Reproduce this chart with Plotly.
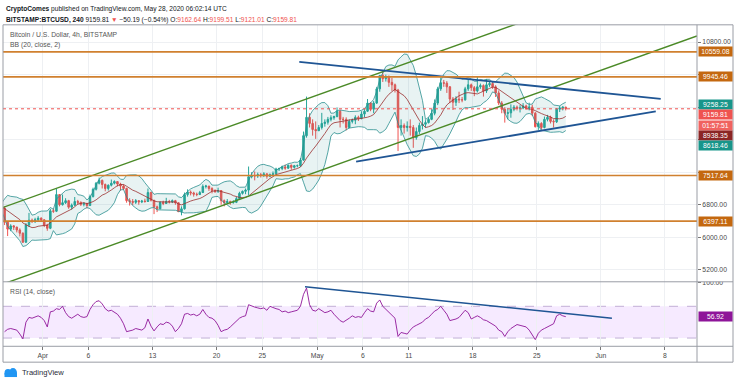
import numpy as np
import pandas as pd
import plotly.graph_objects as go

# ---------------------------------------------------------------- data
# BTC/USD (Bitstamp), one candle per 8 hours,
# timestamps are candle centres (04:00, 12:00, 20:00 UTC)
candle_start = "2020-03-24 04:00"
opens = [
    6480, 6600, 6720,  6750, 6850, 6700,  6690, 6720, 6700,  6760, 6780, 6720,   # Mar 24-27
    6370, 6200, 6280,  6250, 6180, 6100,  5880, 6300, 6420,  6400, 6430, 6470,   # Mar 28-31
    6430, 6300, 6220,  6650, 6640, 7050,  6800, 6850, 6900,  6740, 6790, 6880,   # Apr 1-4
    6860, 6810, 6830,  6780, 7000, 7180,  7330, 7400, 7300,  7200, 7280, 7330,   # Apr 5-8
    7370, 7310, 7260,  7200, 6900, 6880,  6860, 6900, 6870,  6890, 6880, 7100,   # Apr 9-12
    6910, 6750, 6700,  6860, 6830, 6880,  6870, 6900, 6850,  6630, 6700, 7050,   # Apr 13-16
    7110, 7090, 7060,  7050, 7100, 7250,  7260, 7200, 7150,  7130, 7150, 6900,   # Apr 17-20
    6850, 6880, 6850,  6860, 6950, 7080,  7130, 7160, 7490,  7520, 7510, 7540,   # Apr 21-24
    7520, 7560, 7500,  7540, 7560, 7680,  7690, 7730, 7700,  7770, 7720, 7760,   # Apr 25-28
    7760, 7900, 8500,  8950, 8800, 8650,  8620, 8700, 8800,  8830, 8900, 8940,   # Apr 29-May 2
    8970, 9100, 8900,  8900, 8700, 8850,  8880, 8950, 8920,  9030, 9100, 9300,   # May 3-6
    9150, 9300, 9650,  9980, 9900, 9950,  9810, 9750, 9620,  8700, 8750, 8700,   # May 7-10
    8730, 8700, 8450,  8600, 8750, 8780,  8820, 8900, 9050,  9300, 9650, 9800,   # May 11-14
    9790, 9700, 9400,  9320, 9400, 9380,  9380, 9650, 9750,  9680, 9600, 9700,   # May 15-18
    9730, 9600, 9750,  9780, 9700, 9550,  9300, 9150, 9050,  9060, 9150, 9200,   # May 19-22
    9170, 9180, 9230,  9180, 9200, 9050,  8720, 8800, 8700,  8900, 8950, 8850,   # May 23-26
    8840, 9150, 9180,  9200,                                                      # May 27-28
]
highs = [
    6620, 6850, 6800,  6960, 6880, 6750,  6780, 6760, 6790,  6870, 6850, 6760,
    6380, 6320, 6300,  6260, 6220, 6120,  6350, 6600, 6460,  6480, 6520, 6490,
    6440, 6330, 6700,  6700, 7200, 7060,  7050, 6960, 6920,  6830, 6990, 6920,
    6880, 6860, 6850,  7050, 7220, 7360,  7470, 7420, 7320,  7300, 7420, 7400,
    7380, 7340, 7300,  7220, 6960, 6940,  6940, 6910, 6920,  6950, 7200, 7120,
    6920, 6780, 6880,  6900, 6970, 6920,  6930, 6920, 6860,  6760, 7100, 7180,
    7150, 7120, 7100,  7140, 7300, 7290,  7260, 7230, 7180,  7220, 7160, 6930,
    6940, 6900, 6910,  6990, 7120, 7150,  7200, 7740, 7600,  7620, 7590, 7580,
    7600, 7570, 7570,  7620, 7710, 7710,  7760, 7790, 7790,  7790, 7780, 7790,
    7950, 8600, 9460,  9050, 8900, 8850,  8760, 9060, 8900,  8960, 9000, 8990,
    9190, 9130, 8960,  8950, 8900, 8920,  9000, 8990, 9100,  9150, 9400, 9320,
    9350, 9700, 9990, 10070, 10000, 9980,  9920, 9780, 9650,  8900, 8800, 8850,
    8900, 8760, 8700,  8820, 8980, 8880,  8950, 9150, 9390,  9700, 9930, 9870,
    9840, 9720, 9450,  9470, 9580, 9450,  9700, 9880, 9780,  9720, 9950, 9780,
    9760, 9890, 9850,  9830, 9740, 9610,  9350, 9200, 9170,  9270, 9250, 9240,
    9250, 9300, 9260,  9310, 9260, 9080,  8850, 8830, 8970,  9010, 8990, 8900,
    9180, 9230, 9220,  9210,
]
lows = [
    6380, 6560, 6650,  6700, 6600, 6500,  6550, 6620, 6680,  6700, 6650, 6300,
    6030, 6150, 6180,  6120, 6020, 5860,  5860, 6250, 6350,  6350, 6400, 6380,
    6250, 6160, 6200,  6600, 6620, 6760,  6780, 6820, 6700,  6680, 6770, 6800,
    6770, 6760, 6710,  6770, 6980, 7150,  7300, 7200, 7130,  7150, 7250, 7300,
    7250, 7150, 7160,  6850, 6780, 6790,  6820, 6800, 6840,  6850, 6870, 6880,
    6570, 6620, 6690,  6790, 6820, 6830,  6840, 6800, 6620,  6540, 6680, 7000,
    7030, 7000, 7010,  7040, 7090, 7200,  7140, 7080, 7090,  7090, 6800, 6760,
    6820, 6800, 6830,  6840, 6930, 7050,  7060, 7040, 7450,  7400, 7460, 7470,
    7480, 7440, 7480,  7500, 7540, 7630,  7650, 7660, 7680,  7660, 7690, 7720,
    7730, 7880, 8450,  8700, 8500, 8420,  8620, 8650, 8720,  8770, 8850, 8890,
    8950, 8700, 8800,  8630, 8680, 8800,  8780, 8860, 8900,  8950, 9080, 9100,
    9050, 9280, 9580,  9820, 9830, 9700,  9600, 9560, 8120,  8500, 8550, 8600,
    8500, 8200, 8400,  8540, 8650, 8700,  8800, 8880, 9000,  9250, 9600, 9700,
    9550, 9300, 9130,  9230, 9300, 9320,  9360, 9600, 9600,  9470, 9560, 9650,
    9460, 9550, 9700,  9650, 9450, 9250,  9050, 8820, 8900,  8940, 9100, 9120,
    9070, 9150, 9140,  9120, 8980, 8700,  8640, 8650, 8680,  8850, 8800, 8700,
    8810, 9080, 9120,  9120,
]
closes = [
    6600, 6720, 6750,  6850, 6700, 6690,  6720, 6700, 6760,  6780, 6720, 6370,
    6200, 6280, 6250,  6180, 6100, 5880,  6300, 6420, 6400,  6430, 6470, 6430,
    6300, 6220, 6650,  6640, 7050, 6800,  6850, 6900, 6740,  6790, 6880, 6860,
    6810, 6830, 6780,  7000, 7180, 7330,  7400, 7300, 7200,  7280, 7330, 7370,
    7310, 7260, 7200,  6900, 6880, 6860,  6900, 6870, 6890,  6880, 7100, 6910,
    6750, 6700, 6860,  6830, 6880, 6870,  6900, 6850, 6630,  6700, 7050, 7110,
    7090, 7060, 7050,  7100, 7250, 7260,  7200, 7150, 7130,  7150, 6900, 6850,
    6880, 6850, 6860,  6950, 7080, 7130,  7160, 7490, 7520,  7510, 7540, 7520,
    7560, 7500, 7540,  7560, 7680, 7690,  7730, 7700, 7770,  7720, 7760, 7760,
    7900, 8500, 8950,  8800, 8650, 8620,  8700, 8800, 8830,  8900, 8940, 8970,
    9100, 8900, 8900,  8700, 8850, 8880,  8950, 8920, 9030,  9100, 9300, 9150,
    9300, 9650, 9980,  9900, 9950, 9810,  9750, 9620, 8700,  8750, 8700, 8730,
    8700, 8450, 8600,  8750, 8780, 8820,  8900, 9050, 9300,  9650, 9800, 9790,
    9700, 9400, 9320,  9400, 9380, 9380,  9650, 9750, 9680,  9600, 9700, 9730,
    9600, 9750, 9780,  9700, 9550, 9300,  9150, 9050, 9060,  9150, 9200, 9170,
    9180, 9230, 9180,  9200, 9050, 8720,  8800, 8700, 8900,  8950, 8850, 8840,
    9150, 9180, 9200,  9160,
]

rsi_start = "2020-03-27 20:00"
rsi_values = [
    38,
    41, 42, 41,  40, 35, 29,  50, 56, 55,  57, 58, 56,            # Mar 28-31
    52, 44, 63,  64, 67, 66,  70, 62, 57,  55, 57, 60,            # Apr 1-4
    57, 56, 57,  66, 72, 76,  77, 73, 67,  64, 65, 62,            # Apr 5-8
    60, 55, 48,  38, 39, 40,  42, 41, 40,  43, 54, 45,            # Apr 9-12
    39, 44, 48,  47, 50, 49,  45, 38, 42,  48, 60, 61,            # Apr 13-16
    59, 60, 58,  60, 66, 60,  56, 55, 52,  46, 38, 40,            # Apr 17-20
    41, 44, 48,  52, 55, 57,  58, 72, 70,  69, 68, 67,            # Apr 21-24
    68, 65, 70,  68, 67, 66,  63, 64, 62,  63, 64, 65,            # Apr 25-28
    70, 85, 93,  72, 65, 64,  67, 65, 62,  63, 65, 60,            # Apr 29-May 2
    56, 52, 50,  52, 55, 58,  56, 57, 56,  62, 67, 64,            # May 3-6
    63, 74, 78,  70, 66, 62,  58, 55, 32,  37, 36, 35,            # May 7-10
    40, 44, 46,  48, 50, 54,  56, 60, 64,  66, 70, 65,            # May 11-14
    60, 52, 53,  54, 56, 60,  65, 62, 54,  56, 58, 56,            # May 15-18
    53, 52, 50,  48, 45, 40,  38, 32, 38,  42, 45, 47,            # May 19-22
    46, 45, 44,  40, 34, 28,  36, 40, 42,  44, 46, 48,            # May 23-26
    58, 60, 58,  56.92,                                           # May 27-28
]

# horizontal support / resistance levels
levels = [10559.08, 9945.46, 7517.64, 6397.11]
last_price = 9159.81
# labels on the price scale (value, text)
bb_upper_last, bb_basis_last, bb_lower_last = 9258.25, 8938.35, 8618.46
countdown = "01:57:51"
rsi_last = 56.92

# drawn trend lines: (dates, values)
channel_top = (["2020-03-27 15:50", "2020-06-11 12:00"], [6734, 12832])
channel_bottom = (["2020-03-27 15:50", "2020-06-11 12:00"], [4850, 10950])
wedge_top = (["2020-04-29 01:00", "2020-06-07 13:00"], [10315, 9402])
wedge_bottom = (["2020-05-05 06:00", "2020-06-07 00:00"], [7858, 9095])
rsi_trend = (["2020-04-29 16:00", "2020-06-02 05:00"], [94.6, 55.0])

tick_dates = ["2020-04-01", "2020-04-06", "2020-04-13", "2020-04-20", "2020-04-25",
              "2020-05-01", "2020-05-06", "2020-05-11", "2020-05-18", "2020-05-25",
              "2020-06-01", "2020-06-08"]
tick_labels = ["Apr", "6", "13", "20", "25", "May", "6", "11", "18", "25", "Jun", "8"]
price_ticks = [5200, 6000, 6800, 7600, 8400, 9200, 10000, 10800]
price_ticks_shown = [5200, 6000, 6800, 10800]

# ---------------------------------------------------------------- geometry / style
W, H = 736, 382
PL, PR, FR = 3, 697, 733          # plot left, price-scale line, frame right
MT, MB, RB, FB = 22, 281, 346, 362  # main top, main bottom, rsi bottom, frame bottom
x_range = ["2020-03-27 15:50", "2020-06-11 12:10"]
price_range = [4905, 11225]
rsi_range = [19.6, 100.9]

UP, DOWN = "#26a69a", "#ef5350"
ORANGE_LINE, ORANGE_BOX = "#d0802f", "#c4680f"
GREEN = "#4b8a27"
BLUE = "#1f5594"
BB_LINE, BB_FILL, BB_MID = "#2b8f8f", "rgba(25,135,135,0.10)", "#9b2f2f"
RSI_COL = "#8e1599"
GRID = "#eef0f3"
FRAME = "#9a9da5"
TXT = "#4a4a4a"
FONT = "Liberation Sans, Arial, sans-serif"
FS = 6.8


def px(x):
    return x / W


def py(y):
    return 1 - y / H


def price_px(p):
    return MT + (price_range[1] - p) / (price_range[1] - price_range[0]) * (MB - MT)


def rsi_px(v):
    return MB + (rsi_range[1] - v) / (rsi_range[1] - rsi_range[0]) * (RB - MB)


times = pd.date_range(candle_start, periods=len(closes), freq="8h")
rsi_times = pd.date_range(rsi_start, periods=len(rsi_values), freq="8h")

BB_WINDOW = 10  # 20 x 4h == 10 x 8h
s = pd.Series(closes, dtype=float)
bb_mid = s.rolling(BB_WINDOW).mean()
bb_sd = s.rolling(BB_WINDOW).std(ddof=0)
bb_up = bb_mid + 2 * bb_sd
bb_lo = bb_mid - 2 * bb_sd

fig = go.Figure()

# Bollinger bands
fig.add_trace(go.Scatter(x=times, y=bb_up, mode="lines", line=dict(color=BB_LINE, width=0.8),
                         hoverinfo="skip", xaxis="x", yaxis="y"))
fig.add_trace(go.Scatter(x=times, y=bb_lo, mode="lines", line=dict(color=BB_LINE, width=0.8),
                         fill="tonexty", fillcolor=BB_FILL, hoverinfo="skip", xaxis="x", yaxis="y"))
fig.add_trace(go.Scatter(x=times, y=bb_mid, mode="lines", line=dict(color=BB_MID, width=0.8),
                         hoverinfo="skip", xaxis="x", yaxis="y"))

# candles
fig.add_trace(go.Candlestick(
    x=times, open=opens, high=highs, low=lows, close=closes,
    increasing=dict(line=dict(color=UP, width=1), fillcolor=UP),
    decreasing=dict(line=dict(color=DOWN, width=1), fillcolor=DOWN),
    whiskerwidth=0, hoverinfo="skip", xaxis="x", yaxis="y"))

# trend lines
for (xs, ys), col, wd in [(channel_top, GREEN, 1.4), (channel_bottom, GREEN, 1.4),
                          (wedge_top, BLUE, 1.8), (wedge_bottom, BLUE, 1.8)]:
    fig.add_trace(go.Scatter(x=xs, y=ys, mode="lines", line=dict(color=col, width=wd),
                             hoverinfo="skip", xaxis="x", yaxis="y"))

# RSI
fig.add_trace(go.Scatter(x=rsi_times, y=rsi_values, mode="lines", line=dict(color=RSI_COL, width=0.9),
                         hoverinfo="skip", xaxis="x2", yaxis="y2"))
fig.add_trace(go.Scatter(x=rsi_trend[0], y=rsi_trend[1], mode="lines", line=dict(color=BLUE, width=1.6),
                         hoverinfo="skip", xaxis="x2", yaxis="y2"))

shapes = []
# RSI band
shapes.append(dict(type="rect", xref="x2 domain", yref="y2", x0=0, x1=1, y0=30, y1=70,
                   fillcolor="rgba(153,21,255,0.09)", line=dict(width=0), layer="below"))
for v in (30, 70):
    shapes.append(dict(type="line", xref="x2 domain", yref="y2", x0=0, x1=1, y0=v, y1=v,
                       line=dict(color="#c2b0d6", width=1, dash="dash"), layer="below"))
# horizontal levels
for lv in levels:
    shapes.append(dict(type="line", xref="x domain", yref="y", x0=0, x1=1, y0=lv, y1=lv,
                       line=dict(color=ORANGE_LINE, width=1.6)))
# last price dotted line
shapes.append(dict(type="line", xref="x domain", yref="y", x0=0, x1=1, y0=last_price, y1=last_price,
                   line=dict(color=DOWN, width=1, dash="dot")))
# cover top half of the "100.00" label (it is clipped by the pane border in the original)
shapes.append(dict(type="rect", xref="paper", yref="paper", x0=px(PR + 1), x1=px(FR - 0.5),
                   y0=py(MB), y1=py(MB - 8), fillcolor="white", line=dict(width=0), layer="above"))
# frame and pane separators
shapes.append(dict(type="rect", xref="paper", yref="paper", x0=px(PL), x1=px(FR), y0=py(FB), y1=py(MT),
                   line=dict(color=FRAME, width=1)))
shapes.append(dict(type="line", xref="paper", yref="paper", x0=px(PR), x1=px(PR), y0=py(FB), y1=py(MT),
                   line=dict(color=FRAME, width=1)))
for yy in (MB, RB):
    shapes.append(dict(type="line", xref="paper", yref="paper", x0=px(PL), x1=px(FR), y0=py(yy), y1=py(yy),
                       line=dict(color=FRAME, width=1)))
# TradingView logo (cloud)
LOGO = "#2196f3"
shapes.append(dict(type="circle", xref="paper", yref="paper", x0=px(4.5), x1=px(11.5), y0=py(377), y1=py(369),
                   fillcolor=LOGO, line=dict(width=0)))
shapes.append(dict(type="circle", xref="paper", yref="paper", x0=px(9), x1=px(17), y0=py(377), y1=py(368),
                   fillcolor=LOGO, line=dict(width=0)))
shapes.append(dict(type="rect", xref="paper", yref="paper", x0=px(4.5), x1=px(17), y0=py(377), y1=py(373),
                   fillcolor=LOGO, line=dict(width=0)))

ann = []


def text(x, y, t, size=FS, color=TXT, anchor="left"):
    ann.append(dict(xref="paper", yref="paper", x=px(x), y=py(y), text=t, showarrow=False,
                    xanchor=anchor, yanchor="middle", font=dict(size=size, color=color, family=FONT)))


def box(y, t, bg):
    ann.append(dict(xref="paper", yref="paper", x=px(PR + 1), y=py(y), text=t, showarrow=False,
                    xanchor="left", yanchor="middle", width=33, height=9, align="center",
                    bgcolor=bg, borderpad=0, font=dict(size=FS, color="white", family=FONT)))


R = "#ef5350"
text(4, 6.5, "<b>CryptoComes</b> published on TradingView.com, May 28, 2020 06:02:14 UTC", 6.6, "#131722")
text(4, 17, "<b>BITSTAMP:BTCUSD, 240</b> 9159.81 <span style='color:%s'>▼</span> −50.19 (−0.54%%) "
     "O:<span style='color:%s'>9162.64</span> H:<span style='color:%s'>9199.51</span> "
     "L:<span style='color:%s'>9121.01</span> C:<span style='color:%s'>9159.81</span>" % (R, R, R, R, R),
     6.6, "#131722")
text(8, 32, "Bitcoin / U.S. Dollar, 4h, BITSTAMP", FS, "#555")
text(8, 42, "BB (20, close, 2)", FS, "#555")
text(8, 291, "RSI (14, close)", FS, "#555")
text(20, 372, "TradingView", 7.6, "#2a2e39")

# price-scale label boxes
for lv in levels:
    box(price_px(lv), f"{lv:.2f}", ORANGE_BOX)
stack = [(bb_upper_last, f"{bb_upper_last:.2f}", "#17958a"),
         (last_price, f"{last_price:.2f}", DOWN),
         (None, countdown, "#f0625f"),
         (bb_basis_last, f"{bb_basis_last:.2f}", "#8b2525"),
         (bb_lower_last, f"{bb_lower_last:.2f}", "#17958a")]
prev = None
for val, t, bg in stack:
    natural = price_px(val) if val is not None else prev + 10.2
    pos = natural if prev is None else max(natural, prev + 10.2)
    box(pos, t, bg)
    prev = pos
box(rsi_px(rsi_last), f"{rsi_last:.2f}", RSI_COL)

axis_common = dict(showline=False, zeroline=False, fixedrange=True)
fig.update_layout(
    width=W, height=H, margin=dict(l=0, r=0, t=0, b=0),
    paper_bgcolor="white", plot_bgcolor="white", showlegend=False,
    font=dict(family=FONT, size=FS, color=TXT),
    xaxis=dict(domain=[px(PL), px(PR)], range=x_range, type="date", anchor="y",
               tickvals=tick_dates, showticklabels=False, ticks="",
               showgrid=True, gridcolor=GRID, gridwidth=1,
               rangeslider=dict(visible=False), **axis_common),
    yaxis=dict(domain=[py(MB), py(MT)], range=price_range, side="right", anchor="x",
               tickvals=price_ticks,
               ticktext=[f"{v:.2f}" if v in price_ticks_shown else "" for v in price_ticks],
               ticks="outside", ticklen=3, tickcolor="#777", tickfont=dict(size=FS, color=TXT),
               showgrid=True, gridcolor=GRID, **axis_common),
    xaxis2=dict(domain=[px(PL), px(PR)], matches="x", type="date", anchor="y2",
                tickvals=tick_dates, ticktext=tick_labels, ticks="outside", ticklen=3,
                tickcolor="#777", tickfont=dict(size=FS, color=TXT),
                showgrid=True, gridcolor=GRID, **axis_common),
    yaxis2=dict(domain=[py(RB), py(MB)], range=rsi_range, side="right", anchor="x2",
                tickvals=[100], ticktext=["100.00"], ticks="outside", ticklen=3, tickcolor="#777",
                tickfont=dict(size=FS, color=TXT), showgrid=False, **axis_common),
    shapes=shapes, annotations=ann,
)

fig.write_html("out.html", config={"displayModeBar": False},
               post_script="document.body.style.margin='0';document.body.style.overflow='hidden';")
